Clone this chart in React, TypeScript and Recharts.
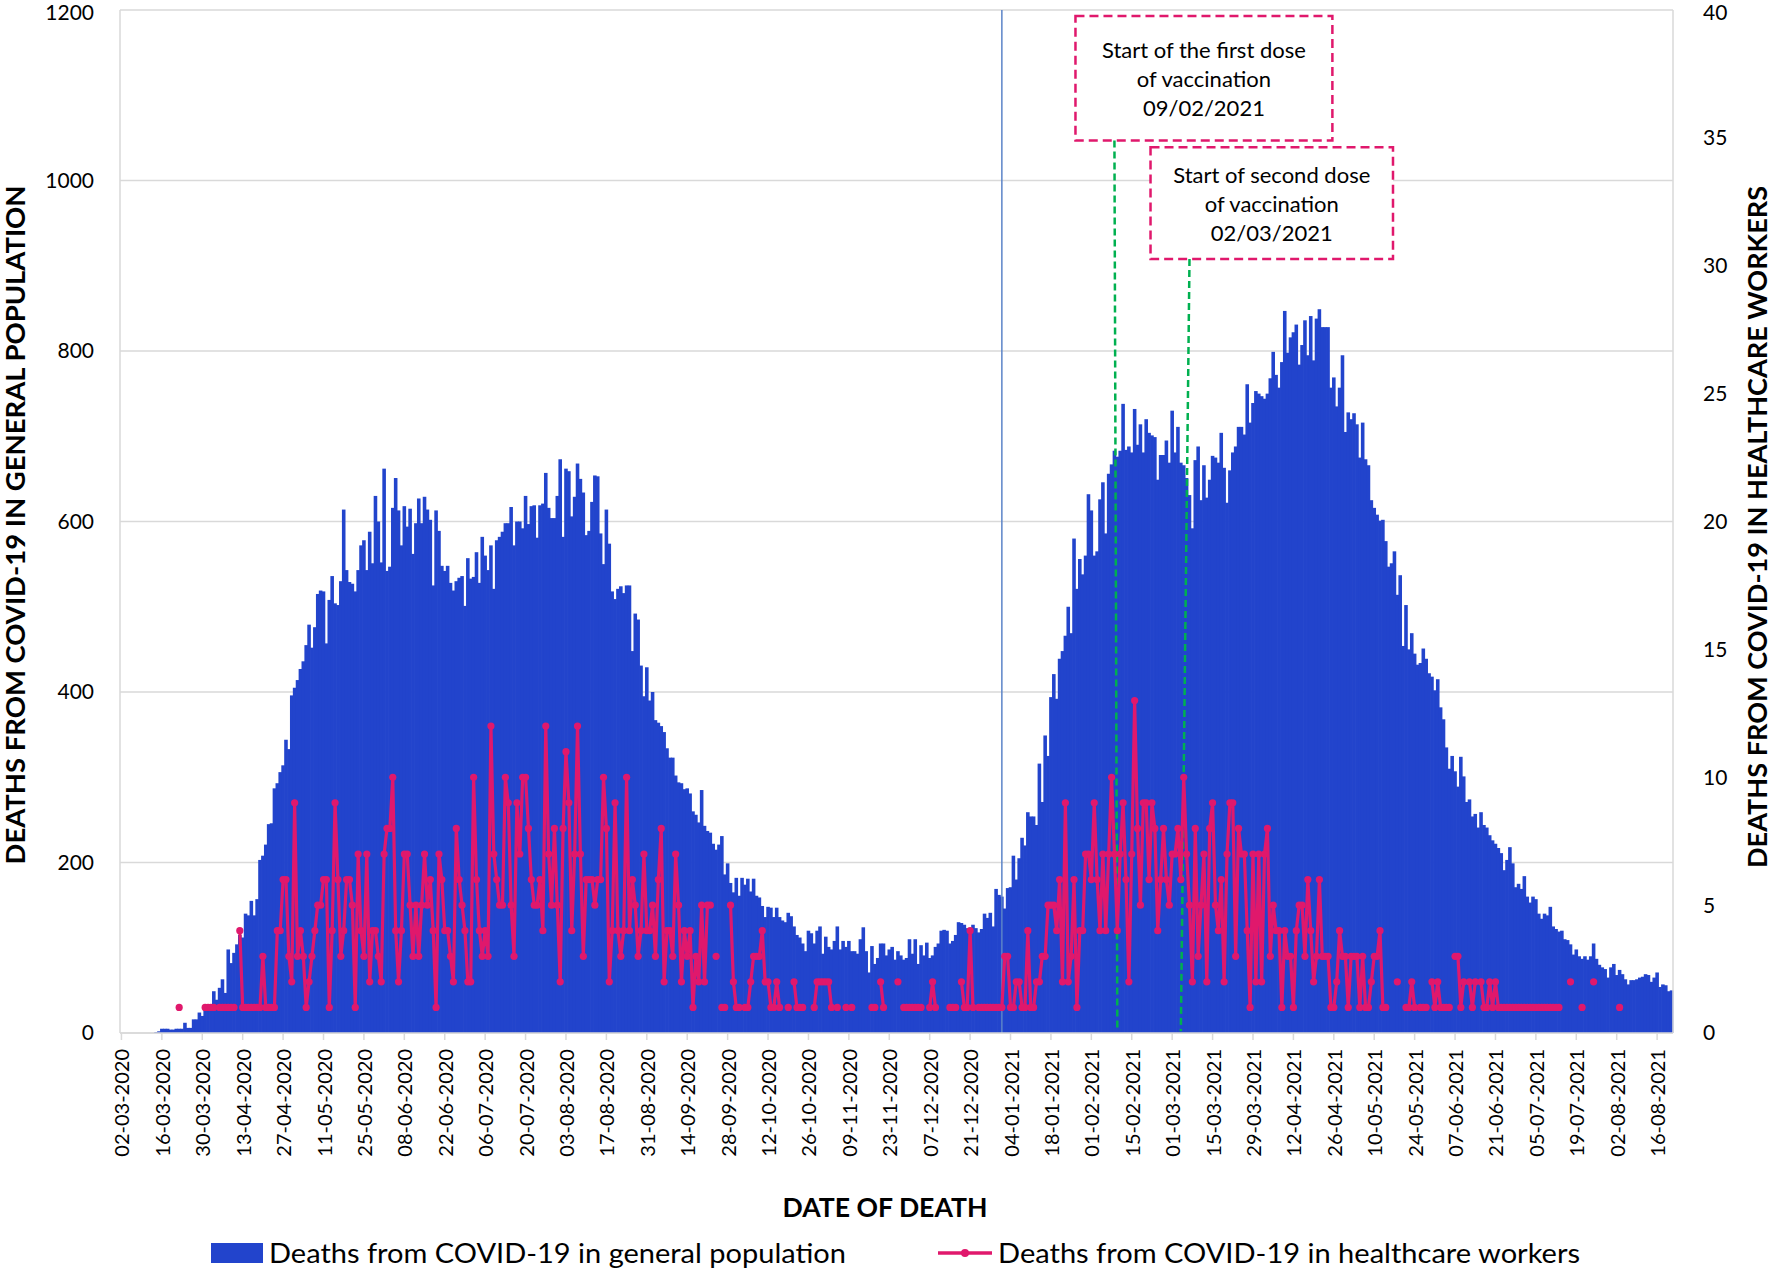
import {
  ComposedChart,
  Bar,
  Line,
  XAxis,
  YAxis,
  CartesianGrid,
  ReferenceLine,
  ReferenceArea,
} from "recharts";

// daily deaths, general population (left axis), one row = two weeks, first row starts 02-03-2020
const general = [
  0, 0, 0, 0, 0, 0, 0, 0, 0, 0, 0, 0, 1, 2,
  5, 5, 5, 4, 4, 5, 5, 5, 12, 6, 6, 16, 16, 24,
  20, 28, 27, 29, 49, 39, 53, 63, 47, 98, 82, 94, 104, 115,
  112, 140, 138, 155, 138, 157, 203, 208, 221, 245, 246, 287, 293, 306,
  314, 344, 333, 396, 405, 414, 427, 436, 455, 479, 452, 476, 515, 519,
  518, 457, 508, 536, 504, 502, 530, 614, 543, 529, 527, 518, 543, 572,
  578, 543, 588, 551, 630, 600, 552, 662, 542, 547, 616, 651, 613, 572,
  618, 594, 615, 562, 598, 627, 598, 629, 614, 602, 525, 613, 589, 548,
  542, 548, 528, 519, 530, 534, 536, 501, 557, 533, 535, 564, 528, 582,
  560, 543, 572, 521, 578, 582, 588, 598, 598, 617, 572, 600, 600, 592,
  630, 597, 618, 619, 581, 619, 621, 657, 616, 604, 604, 630, 673, 582,
  662, 659, 606, 629, 668, 650, 634, 584, 589, 623, 654, 653, 586, 550,
  614, 574, 518, 509, 521, 524, 516, 525, 525, 448, 492, 485, 431, 395,
  429, 390, 400, 367, 364, 360, 353, 334, 323, 323, 302, 294, 293, 286,
  287, 281, 260, 256, 247, 285, 243, 237, 235, 222, 215, 221, 231, 186,
  199, 176, 165, 182, 161, 182, 174, 181, 166, 181, 161, 159, 149, 136,
  148, 147, 136, 147, 136, 132, 130, 141, 137, 125, 115, 112, 105, 96,
  120, 117, 105, 120, 125, 93, 113, 101, 98, 108, 125, 98, 108, 101,
  108, 96, 96, 93, 110, 124, 96, 71, 102, 81, 88, 105, 105, 91,
  98, 101, 86, 96, 91, 86, 88, 110, 93, 110, 81, 103, 91, 106,
  88, 91, 101, 105, 120, 121, 120, 105, 108, 115, 130, 129, 127, 123,
  120, 127, 123, 118, 122, 140, 135, 141, 125, 169, 162, 160, 146, 170,
  171, 208, 180, 205, 229, 220, 259, 254, 254, 244, 316, 271, 349, 325,
  394, 421, 392, 439, 448, 466, 500, 469, 580, 521, 556, 538, 560, 632,
  613, 560, 565, 626, 646, 586, 656, 667, 683, 676, 683, 738, 684, 688,
  681, 732, 690, 714, 681, 720, 704, 701, 699, 649, 678, 678, 695, 669,
  730, 681, 711, 669, 666, 651, 631, 592, 672, 688, 625, 666, 628, 649,
  677, 675, 669, 704, 663, 622, 660, 681, 688, 711, 711, 702, 761, 716,
  739, 753, 750, 747, 744, 750, 768, 799, 772, 757, 787, 847, 798, 816,
  822, 831, 784, 807, 836, 795, 841, 789, 838, 849, 828, 828, 828, 757,
  769, 735, 757, 795, 705, 728, 720, 727, 714, 675, 716, 673, 666, 625,
  616, 608, 601, 602, 577, 547, 551, 565, 514, 537, 454, 502, 450, 469,
  445, 432, 434, 451, 439, 422, 418, 402, 415, 382, 368, 335, 310, 325,
  307, 289, 324, 301, 271, 274, 254, 257, 241, 259, 244, 241, 232, 226,
  222, 217, 211, 191, 203, 218, 199, 171, 175, 169, 184, 160, 153, 160,
  157, 140, 134, 140, 138, 148, 125, 122, 119, 120, 110, 109, 104, 92,
  98, 90, 87, 90, 86, 90, 105, 87, 80, 77, 75, 65, 77, 81,
  68, 74, 69, 63, 57, 62, 62, 63, 65, 66, 69, 68, 60, 65,
  71, 54, 57, 56, 49, 50,
];

// daily deaths, healthcare workers (right axis); 0 = no death that day (left blank in the chart)
const healthcare = [
  0, 0, 0, 0, 0, 0, 0, 0, 0, 0, 0, 0, 0, 0,
  0, 0, 0, 0, 0, 0, 1, 0, 0, 0, 0, 0, 0, 0,
  0, 1, 1, 1, 1, 0, 1, 1, 1, 1, 1, 1, 0, 4,
  1, 1, 1, 1, 1, 1, 1, 3, 1, 1, 1, 1, 4, 4,
  6, 6, 3, 2, 9, 3, 4, 3, 1, 2, 3, 4, 5, 5,
  6, 6, 1, 4, 9, 6, 3, 4, 6, 6, 5, 1, 7, 4,
  3, 7, 2, 4, 4, 3, 2, 7, 8, 8, 10, 4, 2, 4,
  7, 7, 5, 3, 5, 3, 5, 7, 5, 6, 4, 1, 7, 6,
  4, 4, 3, 2, 8, 6, 5, 4, 2, 2, 10, 6, 4, 3,
  4, 3, 12, 7, 6, 5, 5, 10, 9, 5, 3, 9, 7, 10,
  10, 8, 6, 5, 5, 6, 4, 12, 7, 5, 8, 5, 2, 8,
  11, 9, 4, 7, 12, 7, 3, 6, 6, 6, 5, 6, 6, 10,
  8, 2, 4, 9, 4, 3, 4, 10, 4, 6, 5, 3, 4, 7,
  4, 4, 5, 3, 6, 8, 2, 4, 4, 3, 7, 5, 2, 4,
  3, 4, 1, 3, 2, 5, 2, 5, 5, 0, 3, 0, 1, 1,
  0, 5, 2, 1, 1, 0, 1, 1, 2, 3, 3, 3, 4, 2,
  2, 1, 1, 2, 1, 0, 0, 1, 0, 2, 1, 1, 1, 0,
  0, 0, 1, 2, 2, 2, 2, 2, 1, 0, 1, 0, 0, 1,
  0, 1, 0, 0, 0, 0, 0, 0, 1, 1, 0, 2, 1, 0,
  0, 0, 0, 2, 0, 1, 1, 1, 1, 1, 1, 1, 0, 0,
  1, 2, 1, 0, 0, 0, 0, 1, 1, 1, 0, 2, 1, 1,
  4, 1, 0, 1, 1, 1, 1, 1, 1, 1, 1, 1, 3, 3,
  1, 1, 2, 2, 1, 1, 4, 1, 1, 2, 2, 3, 3, 5,
  5, 5, 4, 6, 2, 9, 2, 3, 6, 1, 4, 4, 7, 7,
  6, 9, 6, 4, 7, 4, 7, 10, 7, 4, 7, 9, 6, 2,
  7, 13, 8, 5, 9, 9, 6, 9, 8, 4, 6, 8, 6, 5,
  7, 7, 8, 6, 10, 7, 5, 2, 8, 3, 5, 7, 2, 8,
  9, 5, 4, 6, 2, 7, 9, 9, 3, 8, 7, 7, 4, 1,
  7, 2, 7, 2, 7, 8, 3, 5, 4, 4, 1, 4, 3, 3,
  1, 4, 5, 5, 3, 6, 4, 2, 3, 6, 3, 3, 3, 1,
  1, 2, 4, 3, 3, 1, 3, 3, 3, 1, 3, 1, 1, 2,
  3, 3, 4, 1, 1, 0, 0, 0, 2, 0, 0, 1, 1, 2,
  1, 0, 1, 1, 1, 0, 2, 1, 2, 1, 1, 1, 1, 0,
  3, 3, 1, 2, 0, 2, 1, 2, 0, 2, 1, 1, 2, 1,
  2, 1, 1, 1, 1, 1, 1, 1, 1, 1, 1, 1, 1, 1,
  1, 1, 1, 1, 1, 1, 1, 1, 1, 0, 0, 0, 2, 0,
  0, 0, 1, 0, 0, 0, 2, 0, 0, 0, 0, 0, 0, 0,
  0, 1, 0, 0, 0, 0, 0, 0, 0, 0, 0, 0, 0, 0,
  0, 0, 0, 0, 0, 0,
];

const dateTicks = [
  "02-03-2020", "16-03-2020", "30-03-2020", "13-04-2020", "27-04-2020", "11-05-2020",
  "25-05-2020", "08-06-2020", "22-06-2020", "06-07-2020", "20-07-2020", "03-08-2020",
  "17-08-2020", "31-08-2020", "14-09-2020", "28-09-2020", "12-10-2020", "26-10-2020",
  "09-11-2020", "23-11-2020", "07-12-2020", "21-12-2020", "04-01-2021", "18-01-2021",
  "01-02-2021", "15-02-2021", "01-03-2021", "15-03-2021", "29-03-2021", "12-04-2021",
  "26-04-2021", "10-05-2021", "24-05-2021", "07-06-2021", "21-06-2021", "05-07-2021",
  "19-07-2021", "02-08-2021", "16-08-2021",
];

const leftTicks = [0, 200, 400, 600, 800, 1000, 1200];
const rightTicks = [0, 5, 10, 15, 20, 25, 30, 35, 40];

const yearStartLine = "01-01-2021";

const doseBoxes = [
  { from: "27-01-2021", to: "25-04-2021", top: 1193, bottom: 1047, lines: ["Start of the first dose", "of vaccination", "09/02/2021"] },
  { from: "22-02-2021", to: "16-05-2021", top: 1039, bottom: 908, lines: ["Start of second dose", "of vaccination", "02/03/2021"] },
];

const doseLeaders = [
  { top: "09-02-2021", bottom: "10-02-2021", yTop: 1047, yBottom: 6 },
  { top: "07-03-2021", bottom: "04-03-2021", yTop: 908, yBottom: 2 },
];

const BLUE = "#2244CC";
const PINK = "#E0186C";
const GREEN = "#00B050";
const GRID = "#D9D9D9";
const FONT = "Lato, 'Open Sans', sans-serif";

const W = 1772;
const H = 1269;
const LEFT_W = 120;
const RIGHT_W = 99;
const PLOT_W = W - LEFT_W - RIGHT_W;

const pad = (n: number) => String(n).padStart(2, "0");
const firstDay = Date.UTC(2020, 2, 2);
const dates = general.map((_, i) => {
  const d = new Date(firstDay + i * 86400000);
  return `${pad(d.getUTCDate())}-${pad(d.getUTCMonth() + 1)}-${d.getUTCFullYear()}`;
});

const rows = dates.map((date, i) => ({
  date,
  general: general[i],
  healthcare: healthcare[i] > 0 ? healthcare[i] : null,
}));

const barWidth = PLOT_W / rows.length - 0.005;

// bars are drawn a touch wider than their slot so neighbours overlap and no seams show
function SolidBar(props: any) {
  const { x, y, width, height } = props;
  if (!height || height <= 0) return null;
  return <rect x={x - 0.35} y={y} width={width + 0.7} height={height} fill={BLUE} />;
}

function DateTick(props: any) {
  const { x, y, payload } = props;
  return (
    <text
      x={x}
      y={y}
      transform={`rotate(-90 ${x} ${y})`}
      textAnchor="end"
      dominantBaseline="central"
      fontFamily={FONT}
      fontSize={20}
      fill="#000"
    >
      {payload.value}
    </text>
  );
}

function BoxText(props: any) {
  const { viewBox, lines } = props;
  const cx = viewBox.x + viewBox.width / 2;
  const cy = viewBox.y + viewBox.height / 2;
  return (
    <text textAnchor="middle" dominantBaseline="central" fontFamily={FONT} fontSize={22} fill="#000">
      {lines.map((l: string, i: number) => (
        <tspan key={i} x={cx} y={cy + (i - 1) * 29}>
          {l}
        </tspan>
      ))}
    </text>
  );
}

export default function App() {
  return (
    <div style={{ position: "absolute", left: 0, top: 0, width: W, height: H, background: "#fff" }}>
      <ComposedChart
        width={W}
        height={H}
        data={rows}
        margin={{ top: 10, right: 0, bottom: 0, left: 0 }}
        barCategoryGap={0}
        barGap={0}
      >
        <CartesianGrid yAxisId="left" vertical={false} stroke={GRID} strokeWidth={1.5} />
        <XAxis
          dataKey="date"
          ticks={dateTicks}
          interval={0}
          height={236}
          tick={<DateTick />}
          tickSize={7}
          tickMargin={9}
          axisLine={{ stroke: GRID, strokeWidth: 1.5 }}
          tickLine={{ stroke: GRID, strokeWidth: 1.5 }}
        />
        <YAxis
          yAxisId="left"
          width={LEFT_W}
          domain={[0, 1200]}
          ticks={leftTicks}
          tickLine={false}
          tickMargin={20}
          axisLine={{ stroke: GRID, strokeWidth: 1.5 }}
          tick={{ fontFamily: FONT, fontSize: 21, fill: "#000" }}
        />
        <YAxis
          yAxisId="right"
          orientation="right"
          width={RIGHT_W}
          domain={[0, 40]}
          ticks={rightTicks}
          tickLine={false}
          tickMargin={24}
          axisLine={{ stroke: GRID, strokeWidth: 1.5 }}
          tick={{ fontFamily: FONT, fontSize: 21, fill: "#000" }}
        />
        <Bar
          yAxisId="left"
          dataKey="general"
          fill={BLUE}
          barSize={barWidth}
          shape={<SolidBar />}
          isAnimationActive={false}
        />
        <ReferenceLine yAxisId="left" x={yearStartLine} stroke="#5B84C8" strokeWidth={1.5} />
        {doseLeaders.map((d, i) => (
          <ReferenceLine
            key={`lead-${i}`}
            yAxisId="left"
            segment={[
              { x: d.top, y: d.yTop },
              { x: d.bottom, y: d.yBottom },
            ]}
            stroke={GREEN}
            strokeWidth={2.5}
            strokeDasharray="7 4"
          />
        ))}
        <Line
          yAxisId="right"
          type="linear"
          dataKey="healthcare"
          stroke={PINK}
          strokeWidth={3.2}
          dot={{ r: 3.6, fill: PINK, stroke: PINK, strokeWidth: 0 }}
          activeDot={false}
          connectNulls={false}
          isAnimationActive={false}
        />
        {doseBoxes.map((b, i) => (
          <ReferenceArea
            key={`box-${i}`}
            yAxisId="left"
            x1={b.from}
            x2={b.to}
            y1={b.bottom}
            y2={b.top}
            fill="#fff"
            fillOpacity={1}
            stroke={PINK}
            strokeWidth={2.5}
            strokeDasharray="9 5"
            label={<BoxText lines={b.lines} />}
          />
        ))}
      </ComposedChart>

      <svg
        width={W}
        height={H}
        style={{ position: "absolute", left: 0, top: 0, pointerEvents: "none" }}
        fontFamily={FONT}
      >
        <text
          transform="translate(15 525) rotate(-90)"
          textAnchor="middle"
          dominantBaseline="central"
          fontWeight={700}
          fontSize={26}
          textLength={679}
          lengthAdjust="spacingAndGlyphs"
        >
          DEATHS FROM COVID-19 IN GENERAL POPULATION
        </text>
        <text
          transform="translate(1757 527) rotate(-90)"
          textAnchor="middle"
          dominantBaseline="central"
          fontWeight={700}
          fontSize={26}
          textLength={682}
          lengthAdjust="spacingAndGlyphs"
        >
          DEATHS FROM COVID-19 IN HEALTHCARE WORKERS
        </text>
        <text
          x={885}
          y={1207}
          textAnchor="middle"
          dominantBaseline="central"
          fontWeight={700}
          fontSize={26}
          textLength={205}
          lengthAdjust="spacingAndGlyphs"
        >
          DATE OF DEATH
        </text>
        <rect x={211} y={1243} width={52} height={20} fill={BLUE} />
        <text x={269} y={1252} dominantBaseline="central" fontSize={27} textLength={577} lengthAdjust="spacingAndGlyphs">
          Deaths from COVID-19 in general population
        </text>
        <line x1={938} y1={1253} x2={992} y2={1253} stroke={PINK} strokeWidth={3.5} />
        <circle cx={965} cy={1253} r={4} fill={PINK} />
        <text x={998} y={1252} dominantBaseline="central" fontSize={27} textLength={582} lengthAdjust="spacingAndGlyphs">
          Deaths from COVID-19 in healthcare workers
        </text>
      </svg>
    </div>
  );
}
